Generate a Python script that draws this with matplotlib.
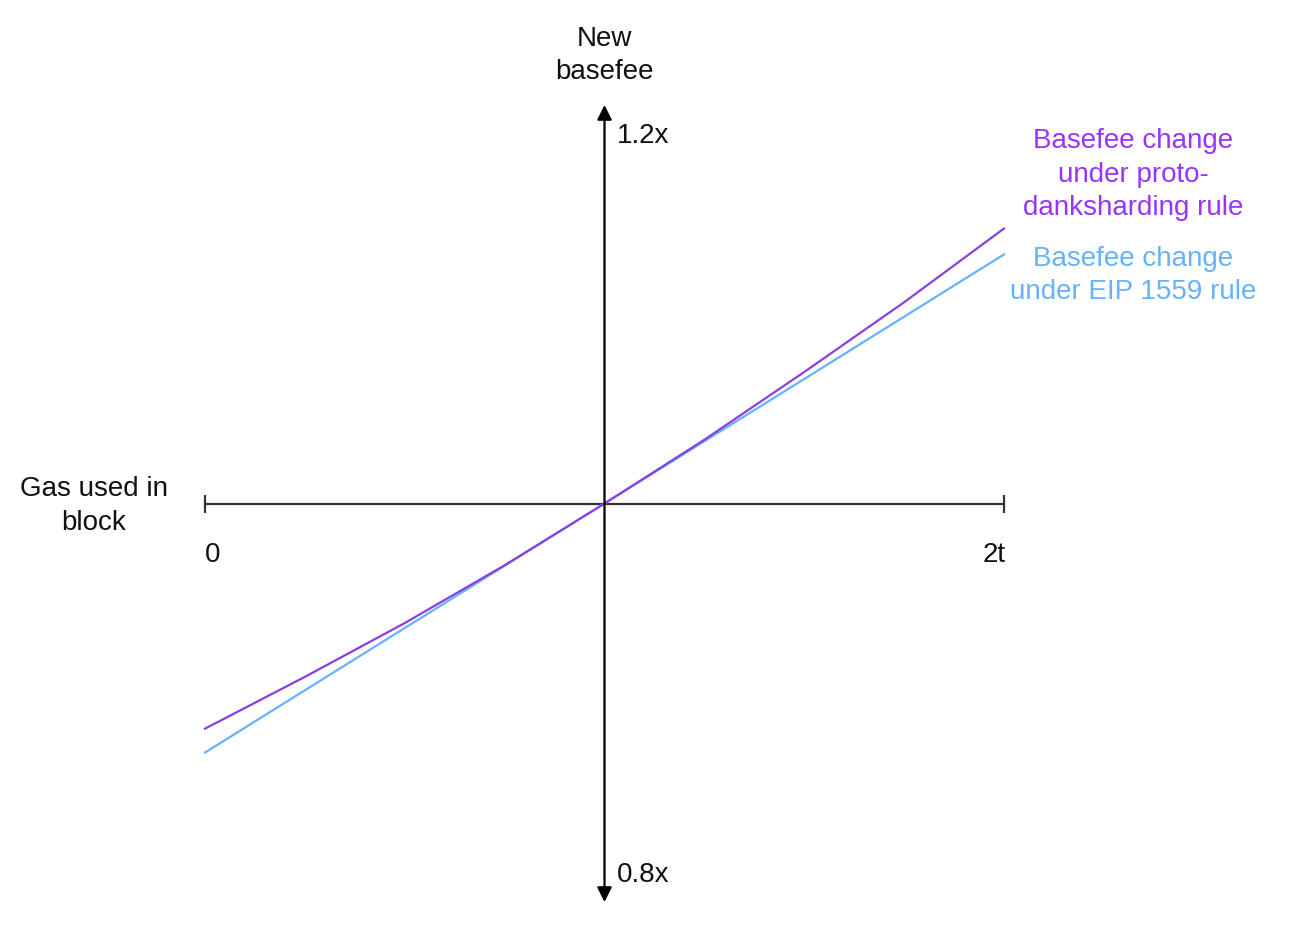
import matplotlib
matplotlib.use("Agg")
import matplotlib.pyplot as plt

plt.rcParams['font.family'] = ['Liberation Sans', 'DejaVu Sans']

# gas used, in units of target t (0 .. 2t)
gas = [0, 0.25, 0.5, 0.75, 1.0, 1.25, 1.5, 1.75, 2.0]
# new basefee as multiple of old basefee
proto_fee = [0.887, 0.913, 0.940, 0.969, 1.0, 1.032, 1.066, 1.101, 1.138]
eip_gas = [0, 2.0]
eip_fee = [0.875, 1.125]

ylims = (0.8, 1.2)
purple = '#9933FF'
blue = '#66B2FF'
axis_col = '#333333'
txt_col = '#111111'

fig = plt.figure(figsize=(13.06, 9.42), dpi=100)
ax = fig.add_axes([0.15697, 0.04246, 0.61179, 0.84607])
ax.set_xlim(0, 2)
ax.set_ylim(*ylims)
ax.axis('off')

# horizontal axis with end bars
ax.plot([0, 2], [1.0, 1.0], color=axis_col, lw=1.6, clip_on=False)
ax.plot([0, 2], [1.0, 1.0], ls='none', marker='|', ms=13, mew=1.6,
        color=axis_col, clip_on=False)

# vertical axis with arrows both ways
for tip in ylims:
    ax.annotate('', xy=(1.0, tip), xytext=(1.0, 1.0),
                arrowprops=dict(arrowstyle='-|>', color='black', lw=1.6,
                                mutation_scale=22, shrinkA=0, shrinkB=0),
                annotation_clip=False)

ax.plot(eip_gas, eip_fee, color=blue, lw=1.6, clip_on=False)
ax.plot(gas, proto_fee, color='#8A3FE0', lw=1.6, clip_on=False,
        solid_joinstyle='round')

fs = 20
ls = 1.37
dy = -0.0013  # small nudge down for all labels
ax.text(1.0, 1.2261 + dy, 'New\nbasefee', ha='center', va='center', fontsize=fs,
        linespacing=ls, color=txt_col)
ax.text(1.0313, 1.1859 + dy, '1.2x', ha='left', va='center', fontsize=fs, color=txt_col)
ax.text(1.0313, 0.8151 + dy, '0.8x', ha='left', va='center', fontsize=fs, color=txt_col)
ax.text(-0.2778, 1.0 + dy, 'Gas used in\nblock', ha='center', va='center', fontsize=fs,
        linespacing=ls, color=txt_col)
ax.text(0.02, 0.9757 + dy, '0', ha='center', va='center', fontsize=fs, color=txt_col)
ax.text(1.975, 0.9757 + dy, '2t', ha='center', va='center', fontsize=fs, color=txt_col)
ax.text(2.3229, 1.1664 + dy, 'Basefee change\nunder proto-\ndanksharding rule',
        ha='center', va='center', fontsize=fs, linespacing=ls, color=purple)
ax.text(2.3229, 1.1157 + dy, 'Basefee change\nunder EIP 1559 rule',
        ha='center', va='center', fontsize=fs, linespacing=ls, color=blue)

fig.savefig('out.png', dpi=100, facecolor='white')
